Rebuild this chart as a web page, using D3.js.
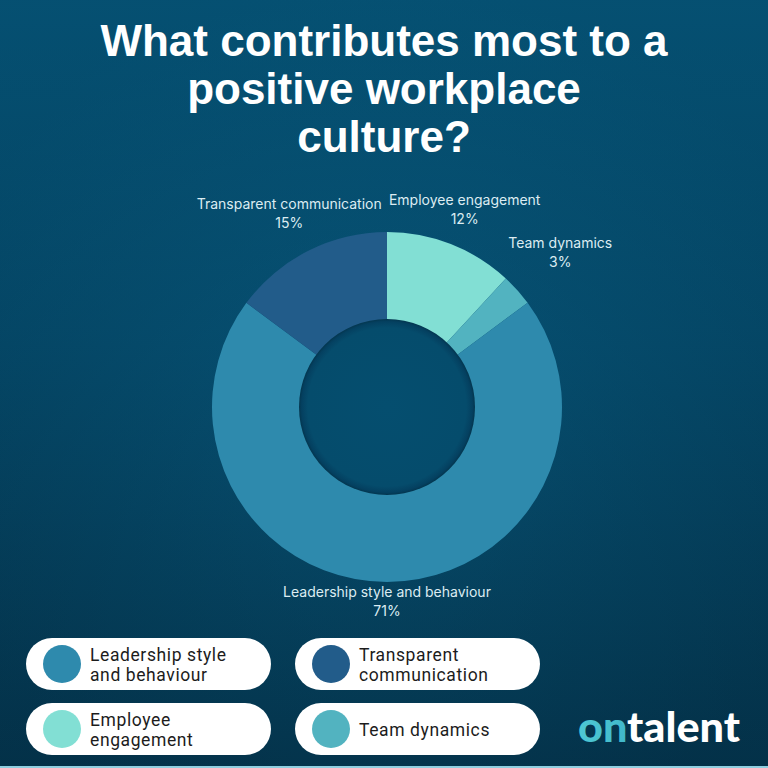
<!DOCTYPE html>
<html><head><meta charset="utf-8">
<script src="https://cdn.jsdelivr.net/npm/d3@7"></script>
<style>html,body{margin:0;padding:0;background:#05476a;}svg{display:block;}</style>
</head><body>
<script>
// ---- data ----
const categories = ["Leadership style and behaviour", "Transparent communication", "Employee engagement", "Team dynamics"];
const values = [71, 15, 12, 3];
const colors = ["#2e8aad", "#225c8a", "#82dfd4", "#52b3c0"];
const legendLines = [["Leadership style", "and behaviour"], ["Transparent", "communication"], ["Employee", "engagement"], ["Team dynamics"]];
const pieOrder = ["Employee engagement", "Team dynamics", "Leadership style and behaviour", "Transparent communication"];
const titleLines = ["What contributes most to a", "positive workplace", "culture?"];

const W = 768, H = 768;
const svg = d3.select("body").append("svg").attr("width", W).attr("height", H);
const defs = svg.append("defs");

const bg = defs.append("linearGradient").attr("id", "bg").attr("x1", 0).attr("y1", 0).attr("x2", 0).attr("y2", 1);
bg.append("stop").attr("offset", "0%").attr("stop-color", "#065c82");
bg.append("stop").attr("offset", "45%").attr("stop-color", "#054d6f");
bg.append("stop").attr("offset", "100%").attr("stop-color", "#04334b");
svg.append("rect").attr("width", W).attr("height", H).attr("fill", "url(#bg)");

const vg = defs.append("radialGradient").attr("id", "vg").attr("cx", 0.5).attr("cy", 0.55).attr("r", 0.6);
vg.append("stop").attr("offset", "0%").attr("stop-color", "#0a5a7c").attr("stop-opacity", 0.35);
vg.append("stop").attr("offset", "100%").attr("stop-color", "#022b40").attr("stop-opacity", 0.25);
svg.append("rect").attr("width", W).attr("height", H).attr("fill", "url(#vg)");

// title
svg.append("g").selectAll("text").data(titleLines).join("text")
  .attr("x", 384).attr("y", (d, i) => 56 + i * 48)
  .attr("text-anchor", "middle")
  .attr("font-family", "Liberation Sans, Arial, sans-serif")
  .attr("font-weight", 700).attr("font-size", 44).attr("fill", "#ffffff")
  .text(d => d);

// donut
const cx = 387, cy = 407, R = 175, r0 = 87;
const color = d3.scaleOrdinal().domain(categories).range(colors);
const valueOf = d3.scaleOrdinal().domain(categories).range(values);
const pie = d3.pie().sort(null).value(d => valueOf(d));
const arcs = pie(pieOrder);
const arc = d3.arc().innerRadius(r0).outerRadius(R);
const g = svg.append("g").attr("transform", `translate(${cx},${cy})`);
g.selectAll("path").data(arcs).join("path").attr("d", arc).attr("fill", d => color(d.data));

const hg = defs.append("radialGradient").attr("id", "hole");
hg.append("stop").attr("offset", "0%").attr("stop-color", "#054e6f");
hg.append("stop").attr("offset", "90%").attr("stop-color", "#054c6c");
hg.append("stop").attr("offset", "97%").attr("stop-color", "#044060");
hg.append("stop").attr("offset", "100%").attr("stop-color", "#03364f");
g.append("circle").attr("r", r0 + 1).attr("fill", "url(#hole)");

// labels
const lab = g.append("g").attr("font-family", "Inter, sans-serif").attr("font-size", 14).attr("fill", "#dcecf2");
arcs.forEach(a => {
  const mid = (a.startAngle + a.endAngle) / 2;
  const d = R + 19 + 52 * Math.abs(Math.sin(mid));
  const px = Math.sin(mid) * d, py = -Math.cos(mid) * d;
  const t = lab.append("g").attr("transform", `translate(${px},${py})`);
  t.append("text").attr("text-anchor", "middle").attr("y", -4).text(a.data);
  t.append("text").attr("text-anchor", "middle").attr("y", 15).text(valueOf(a.data) + "%");
});

// legend
const leg = svg.append("g");
const cols = [26, 295], rows = [638, 703];
categories.forEach((c, i) => {
  const x = cols[i % 2], y = rows[Math.floor(i / 2)];
  const it = leg.append("g").attr("transform", `translate(${x},${y})`);
  it.append("rect").attr("width", 245).attr("height", 52).attr("rx", 26).attr("fill", "#ffffff");
  it.append("circle").attr("cx", 36).attr("cy", 26).attr("r", 19).attr("fill", color(c));
  const lines = legendLines[i];
  const y0 = lines.length === 1 ? 32.5 : 22.5;
  lines.forEach((l, j) => it.append("text").attr("font-family", "Roboto, sans-serif").attr("font-size", 17.5)
    .attr("letter-spacing", 0.6).attr("fill", "#1c1c1c").attr("x", 64).attr("y", y0 + j * 20.6).text(l));
});

// logo
const lgd = defs.append("linearGradient").attr("id", "logo").attr("x1", 0).attr("x2", 1);
lgd.append("stop").attr("offset", "0%").attr("stop-color", "#4fc9d4");
lgd.append("stop").attr("offset", "100%").attr("stop-color", "#1f8fb3");
const logo = svg.append("text").attr("x", 578).attr("y", 742)
  .attr("font-family", "Lato, sans-serif").attr("font-weight", 900).attr("font-size", 42)
  .attr("textLength", 162).attr("lengthAdjust", "spacingAndGlyphs").attr("fill", "#ffffff");
logo.append("tspan").attr("fill", "url(#logo)").text("on");
logo.append("tspan").text("talent");

svg.append("rect").attr("x", 0).attr("y", 766).attr("width", W).attr("height", 2).attr("fill", "#8fcfe0");
</script>
</body></html>
